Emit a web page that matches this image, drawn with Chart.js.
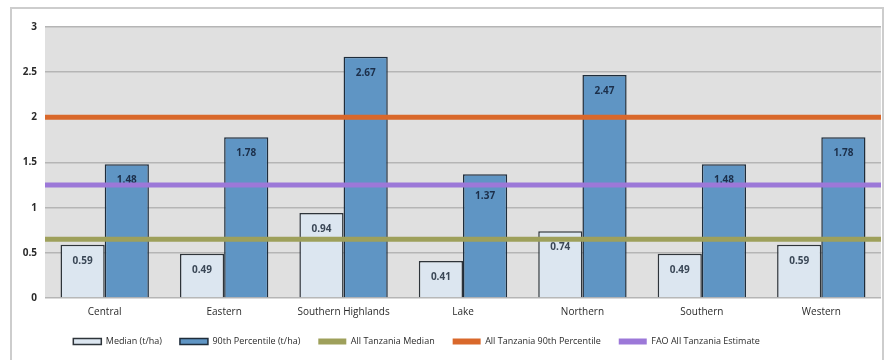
<!DOCTYPE html>
<html>
<head>
<meta charset="utf-8">
<script src="https://cdn.jsdelivr.net/npm/chart.js@4"></script>
<style>
  html, body { margin: 0; padding: 0; background: #fff; }
  #wrap { position: relative; width: 886px; height: 360px; overflow: hidden; }
  #marco { position: absolute; left: 10px; top: 7px; width: 870px; height: 400px;
           border: 2px solid #cdcdcd; pointer-events: none; }
</style>
</head>
<body>
<div id="wrap">
  <canvas id="grafica" width="886" height="360"></canvas>
  <div id="marco"></div>
</div>
<script>
// Regiones (categorías)
const regiones = ["Central", "Eastern", "Southern Highlands", "Lake", "Northern", "Southern", "Western"];

// Rendimientos por región (t/ha)
const mediana = [0.59, 0.49, 0.94, 0.41, 0.74, 0.49, 0.59];
const percentil90 = [1.48, 1.78, 2.67, 1.37, 2.47, 1.48, 1.78];

// Referencias nacionales (líneas horizontales)
const medianaTanzania = 0.65;
const percentil90Tanzania = 2.0;
const estimacionFAO = 1.25;

// Eje Y
const yMin = 0, yMax = 3, yPaso = 0.5;

// Línea que cruza todo el área (eje x2 oculto de 0 a 1)
const lineaPlana = v => [{ x: 0, y: v }, { x: 1, y: v }];

// Fondo gris del área de la gráfica
const fondoArea = {
    id: "fondoArea",
    beforeDraw(chart) {
        const { ctx, chartArea: a } = chart;
        ctx.save();
        ctx.fillStyle = "#e0e0e0";
        ctx.fillRect(a.left, a.top, a.right - a.left, a.bottom - a.top);
        ctx.restore();
    },
    // la leyenda del original está corrida a la izquierda
    afterLayout(chart) {
        if (chart.legend) chart.legend.right -= 48;
    }
};

// Etiquetas dentro de las barras (la de Lake 90th está bajada para librar la línea FAO)
const ajusteEtiqueta = { "1-3": 6 };
const etiquetasBarras = {
    id: "etiquetasBarras",
    afterDatasetDraw(chart, args) {
        const ds = chart.data.datasets[args.index];
        if (ds.type !== "bar") return;
        const { ctx } = chart;
        ctx.save();
        ctx.font = "bold 10px 'Open Sans'";
        ctx.fillStyle = args.index === 0 ? "#3a4756" : "#1c2f4a";
        ctx.textAlign = "center";
        ctx.textBaseline = "middle";
        args.meta.data.forEach((bar, i) => {
            const extra = ajusteEtiqueta[args.index + "-" + i] || 0;
            ctx.fillText(ds.data[i].toFixed(2), bar.x, bar.y + 16 + extra);
        });
        ctx.restore();
    }
};

new Chart(document.getElementById("grafica"), {
    data: {
        labels: regiones,
        datasets: [
            { type: "bar", label: "Median (t/ha)", data: mediana, indexAxis: "x",
              backgroundColor: "#dce6f0", borderColor: "#2e343a", borderWidth: 1.5, order: 1 },
            { type: "bar", label: "90th Percentile (t/ha)", data: percentil90, indexAxis: "x",
              backgroundColor: "#5f95c4", borderColor: "#1f2d3b", borderWidth: 1.5, order: 1 },
            { type: "line", label: "All Tanzania Median", data: lineaPlana(medianaTanzania), xAxisID: "x2", indexAxis: "x",
              borderColor: "#9ea05b", backgroundColor: "#9ea05b", borderWidth: 5, pointRadius: 0, order: 0 },
            { type: "line", label: "All Tanzania 90th Percentile", data: lineaPlana(percentil90Tanzania), xAxisID: "x2", indexAxis: "x",
              borderColor: "#d9682b", backgroundColor: "#d9682b", borderWidth: 5, pointRadius: 0, order: 0 },
            { type: "line", label: "FAO All Tanzania Estimate", data: lineaPlana(estimacionFAO), xAxisID: "x2", indexAxis: "x",
              borderColor: "#9c78d8", backgroundColor: "#9c78d8", borderWidth: 5, pointRadius: 0, order: 0 }
        ]
    },
    options: {
        responsive: false,
        animation: false,
        // así el grupo de barras no reparte sitio con el eje x2 de las líneas
        indexAxis: "y",
        layout: { padding: { top: 27, right: 5, left: 0, bottom: 4 } },
        datasets: { bar: { categoryPercentage: 0.74, barPercentage: 1.0 } },
        scales: {
            x: {
                type: "category",
                offset: true,
                grid: { display: false },
                border: { display: false },
                ticks: { color: "#2a2a2a", font: { family: "'Open Sans'", size: 10 }, padding: 0 },
                afterFit(s) { s.height += 1; }
            },
            x2: { type: "linear", display: false, offset: false, min: 0, max: 1 },
            y: {
                type: "linear",
                position: "left",
                min: yMin, max: yMax,
                ticks: { stepSize: yPaso, color: "#2a2a2a", padding: 8,
                         font: { family: "'Open Sans'", size: 10, weight: "bold" },
                         callback: v => String(v) },
                grid: { color: "#b5b5b5", lineWidth: 1.5, drawTicks: false },
                border: { display: false },
                afterFit(s) { s.width = 45; }
            }
        },
        plugins: {
            tooltip: { enabled: false },
            legend: {
                position: "bottom",
                labels: {
                    color: "#2a2a2a",
                    font: { family: "'Open Sans'", size: 9 },
                    boxWidth: 28, boxHeight: 6, padding: 18,
                    sort: (a, b) => a.datasetIndex - b.datasetIndex,
                    generateLabels(chart) {
                        return Chart.defaults.plugins.legend.labels.generateLabels(chart).map(it => {
                            if (chart.data.datasets[it.datasetIndex].type === "line") {
                                it.fillStyle = it.strokeStyle;
                                it.lineWidth = 0;
                            }
                            return it;
                        });
                    }
                }
            }
        }
    },
    plugins: [fondoArea, etiquetasBarras]
});
</script>
</body>
</html>
